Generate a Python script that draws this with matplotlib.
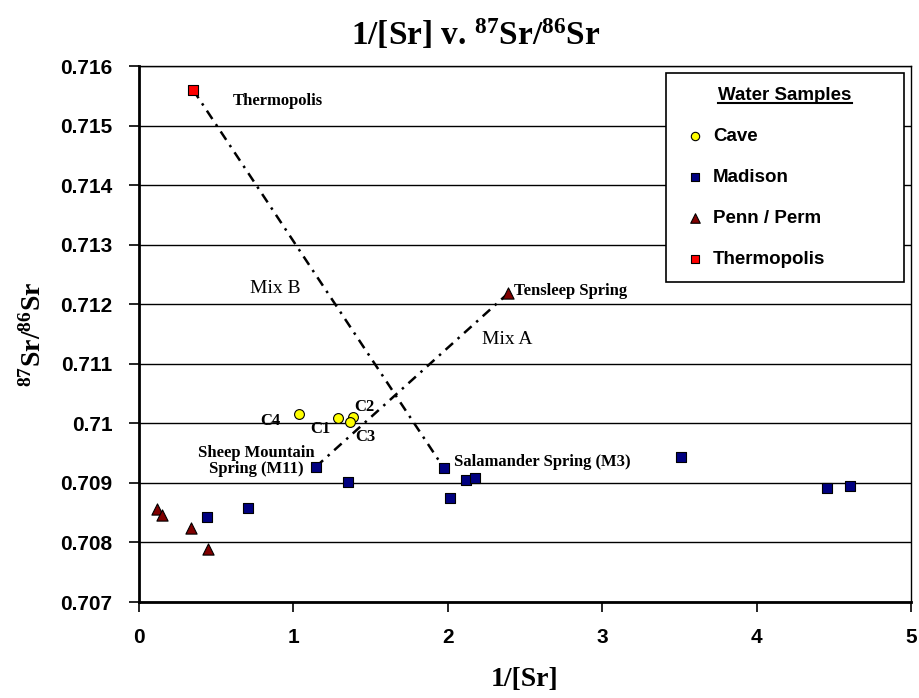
import matplotlib
matplotlib.use("Agg")
from matplotlib import pyplot as plt
from matplotlib.lines import Line2D

# datos
cave_x = [1.038, 1.287, 1.384, 1.367]
cave_y = [0.71016, 0.71009, 0.71011, 0.71002]
cave_lbl = ["C4", "C1", "C2", "C3"]

madison_x = [1.144, 1.352, 0.438, 0.704, 1.973, 2.014, 2.120, 2.178, 3.512, 4.458, 4.603]
madison_y = [0.709267, 0.709015, 0.708421, 0.708579, 0.709255, 0.708740,
             0.709050, 0.709090, 0.709434, 0.708910, 0.708950]

penn_x = [0.119, 0.151, 0.337, 0.449, 2.392]
penn_y = [0.708562, 0.708460, 0.708240, 0.707890, 0.712186]

thermo_x = [0.350]
thermo_y = [0.715600]

# lineas de mezcla (extremos = muestras)
mix_a_x = [madison_x[0], penn_x[4]]
mix_a_y = [madison_y[0], penn_y[4]]
mix_b_x = [thermo_x[0], madison_x[4]]
mix_b_y = [thermo_y[0], madison_y[4]]

x_ticks = [0, 1, 2, 3, 4, 5]
y_ticks = [0.707, 0.708, 0.709, 0.710, 0.711, 0.712, 0.713, 0.714, 0.715, 0.716]

plt.rcParams["mathtext.fontset"] = "custom"
plt.rcParams["mathtext.rm"] = "Liberation Serif:bold"
plt.rcParams["mathtext.bf"] = "Liberation Serif:bold"
plt.rcParams["mathtext.it"] = "Liberation Serif:bold"

SERIF = "Liberation Serif"
SANS = "Liberation Sans"


def graficar():
    fig = plt.figure(figsize=(9.19, 6.98), dpi=100)
    ax = fig.add_axes([139 / 919, 96 / 698, 772 / 919, 536 / 698])

    ax.set_xlim(0, 5)
    ax.set_ylim(0.707, 0.716)
    ax.set_yticks(y_ticks)
    ax.set_yticklabels([f"{v:g}" for v in y_ticks])
    ax.set_xticks(x_ticks)
    ax.set_xticklabels([str(v) for v in x_ticks])
    for lab in ax.get_xticklabels() + ax.get_yticklabels():
        lab.set_fontfamily(SANS)
        lab.set_fontweight("bold")
        lab.set_fontsize(15)
    ax.tick_params(axis="y", length=7, width=1.2, pad=12)
    ax.tick_params(axis="x", length=7, width=1.2, pad=12)

    ax.grid(axis="y", color="black", linewidth=1)
    ax.set_axisbelow(True)
    for s in ["top", "right"]:
        ax.spines[s].set_linewidth(1)
    for s in ["left", "bottom"]:
        ax.spines[s].set_linewidth(2)

    # lineas de mezcla
    ax.plot(mix_a_x, mix_a_y, color="black", lw=1.8, dashes=(4, 2.5, 1, 2.5), zorder=2)
    ax.plot(mix_b_x, mix_b_y, color="black", lw=1.8, dashes=(4, 2.5, 1, 2.5), zorder=2)

    ax.scatter(cave_x, cave_y, s=50, marker="o", facecolor="#FFFF00",
               edgecolor="black", linewidth=0.8, label="Cave", zorder=3)
    ax.scatter(madison_x, madison_y, s=55, marker="s", facecolor="#000080",
               edgecolor="black", linewidth=0.8, label="Madison", zorder=3)
    ax.scatter(penn_x, penn_y, s=65, marker="^", facecolor="#800000",
               edgecolor="black", linewidth=0.8, label="Penn / Perm", zorder=3)
    ax.scatter(thermo_x, thermo_y, s=55, marker="s", facecolor="#FF0000",
               edgecolor="black", linewidth=0.8, label="Thermopolis", zorder=3)

    # etiquetas
    kw = dict(fontfamily=SERIF, fontweight="bold", fontsize=12, va="center")
    ax.text(0.609, 0.715413, "Thermopolis", ha="left", **kw)
    ax.text(2.43, 0.712225, "Tensleep Spring", ha="left", **kw)
    ax.text(0.848, 0.710044, cave_lbl[0], ha="center", **kw)
    ax.text(1.172, 0.709909, cave_lbl[1], ha="center", **kw)
    ax.text(1.457, 0.710279, cave_lbl[2], ha="center", **kw)
    ax.text(1.464, 0.709775, cave_lbl[3], ha="center", **kw)
    ax.text(0.758, 0.709372, "Sheep Mountain\nSpring (M11)", ha="center",
            multialignment="center", linespacing=1.0, **kw)
    ax.text(2.04, 0.709356, "Salamander Spring (M3)", ha="left", **kw)
    ax.text(0.881, 0.712258, "Mix B", fontfamily=SERIF, fontsize=14,
            ha="center", va="center")
    ax.text(2.383, 0.711403, "Mix A", fontfamily=SERIF, fontsize=14,
            ha="center", va="center")

    ax.set_xlabel("1/[Sr]", fontfamily=SERIF, fontweight="bold", fontsize=20, labelpad=14)
    ax.set_ylabel("$^{87}$Sr/$^{86}$Sr", fontfamily=SERIF, fontweight="bold",
                  fontsize=20, labelpad=10)
    fig.text(476 / 919, 1 - 45 / 698, "1/[Sr] v. $^{87}$Sr/$^{86}$Sr",
             fontfamily=SERIF, fontweight="bold", fontsize=24,
             ha="center", va="baseline")

    leg = ax.legend(loc="upper left", bbox_to_anchor=(0.683, 0.987, 0.308, 0.0),
                    mode="expand", borderaxespad=0, title="Water Samples",
                    frameon=True, fancybox=False, edgecolor="black", framealpha=1,
                    prop={"family": SANS, "weight": "bold", "size": 13.5},
                    title_fontproperties={"family": SANS, "weight": "bold", "size": 13.5},
                    labelspacing=1.27, handletextpad=0.15, handlelength=1.6,
                    borderpad=0.75, markerscale=0.85)
    leg.get_frame().set_linewidth(1.2)
    leg._legend_box.align = "center"

    # subrayado del titulo de la leyenda
    fig.canvas.draw()
    bb = leg.get_title().get_window_extent()
    y0 = bb.y0 + 1
    fig.add_artist(Line2D([bb.x0 / 919, bb.x1 / 919], [y0 / 698, y0 / 698],
                          color="black", lw=1.5, transform=fig.transFigure))

    fig.savefig("out.png", dpi=100)


def main():
    graficar()


if __name__ == "__main__":
    main()
